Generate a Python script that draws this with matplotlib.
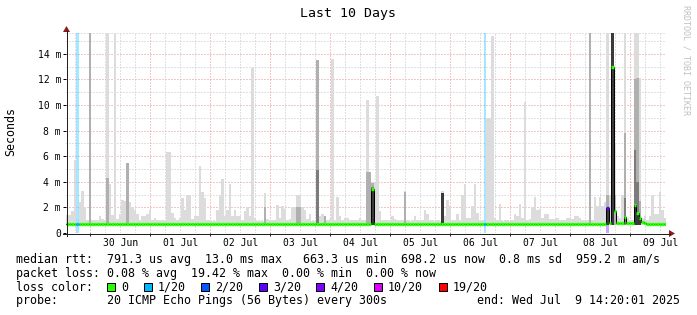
import matplotlib
matplotlib.use("Agg")
import matplotlib.pyplot as plt
from matplotlib.patches import Polygon, Rectangle
from matplotlib.collections import LineCollection
from datetime import datetime

plt.rcParams['font.family'] = ['DejaVu Sans Mono']

# ---------------- data ----------------
title = "Last 10 Days"
y_label = "Seconds"
start = datetime(2025, 6, 29, 14, 20, 1)     # 240 one-hour bins up to Jul 9 14:20
day_labels = ["30 Jun", "01 Jul", "02 Jul", "03 Jul", "04 Jul",
              "05 Jul", "06 Jul", "07 Jul", "08 Jul", "09 Jul"]
y_ticks_ms = [0, 2, 4, 6, 8, 10, 12, 14]
y_tick_labels = ["0", "2 m", "4 m", "6 m", "8 m", "10 m", "12 m", "14 m"]

smoke_lo = 0.6  # ms, fastest ping (bottom of the smoke)
# top of the light smoke (slowest ping) per hour, ms
smoke_hi = [
    1.4, 1.4, 1.7, 5.7, 0, 2.4, 3.3, 2.0, 1.0, 16, 1.0, 1.0, 1.0, 1.3, 1.1, 1.0, 16, 3.8, 1.4, 16, 1.1, 1.5, 2.6, 2.5,
    5.5, 2.4, 2.0, 1.8, 1.5, 1.0, 1.3, 1.3, 1.5, 1.8, 1.0, 1.2, 1.0, 0.95, 1.0, 1.0, 6.3, 6.3, 1.6, 1.2, 1.0, 1.2, 2.7, 1.8,
    3.0, 3.0, 1.1, 1.3, 1.3, 5.2, 3.2, 2.7, 1.0, 1.0, 0.95, 0.95, 1.8, 3.0, 4.2, 1.3, 1.8, 3.8, 1.3, 1.8, 1.3, 1.3, 1.0, 1.7,
    2.0, 1.3, 12.9, 1.2, 0.95, 0.95, 0.95, 3.1, 1.1, 1.0, 1.0, 1.0, 2.2, 1.2, 2.1, 1.9, 1.0, 1.1, 2.0, 2.0, 3.0, 3.0, 2.0, 1.8,
    1.1, 1.5, 0.95, 0.95, 13.5, 1.3, 1.5, 1.3, 1.0, 1.1, 13.6, 1.0, 2.8, 1.3, 1.0, 1.2, 1.2, 1.0, 1.0, 1.0, 1.0, 1.2, 1.0, 1.0,
    10.4, 4.8, 4.0, 4.0, 10.7, 1.7, 1.0, 1.0, 1.0, 1.0, 1.3, 1.1, 1.0, 1.0, 1.0, 3.3, 1.0, 0.95, 1.0, 1.3, 1.0, 1.0, 1.0, 1.8,
    1.5, 1.0, 1.0, 0.95, 1.0, 0.95, 3.3, 1.3, 2.6, 2.1, 1.0, 1.0, 1.5, 1.0, 3.0, 3.8, 1.2, 1.2, 2.1, 3.8, 1.6, 1.0, 1.0, 0,
    9.0, 9.0, 15.4, 1.2, 1.0, 2.3, 0.95, 1.0, 1.0, 0.95, 1.0, 1.5, 1.3, 2.3, 1.2, 10.2, 1.0, 1.1, 2.0, 2.8, 1.8, 1.9, 1.2, 1.5,
    1.5, 1.1, 1.1, 1.1, 1.2, 1.0, 1.0, 1.0, 1.15, 1.15, 1.1, 1.3, 1.3, 1.2, 1.0, 1.0, 1.0, 16, 1.0, 2.8, 2.1, 2.8, 2.1, 2.4,
    16, 3.0, 16, 7.0, 1.3, 1.2, 3.0, 16, 1.2, 1.0, 1.0, 16, 16, 12.1, 1.2, 1.3, 1.0, 1.3, 3.0, 1.5, 1.5, 3.2, 1.8, 1.2,
]
# denser smoke layers (hour index, top in ms)
mid_bins = [9, 16, 24, 79, 92, 93, 100, 103, 120, 121, 122, 135, 209, 216, 219, 223, 227, 228, 229]
mid_tops = [16, 4.3, 5.5, 2.0, 2.0, 2.0, 13.5, 1.3, 4.8, 4.8, 3.9, 3.2, 16, 3.0, 3.0, 7.8, 12.0, 12.1, 2.5]
deep_bins = [100, 122, 223, 227, 228]
deep_tops = [4.9, 3.6, 2.7, 6.5, 4.0]
dark_bins = [122, 150, 216, 218, 227, 228, 229]
dark_tops = [3.5, 3.1, 1.93, 16, 2.19, 1.6, 1.17]

median_ms = ([0.72] * 122 + [3.44] + [0.72] * 93 +
             [1.93, 0.80, 13.0, 1.72, 0.80, 0.80, 0.80, 1.24, 0.80, 0.80, 0.80,
              2.19, 1.60, 1.17, 0.85, 0.75] + [0.72] * 8)

loss_bins = [4, 167, 216]
loss_levels = ["1/20", "1/20", "3/20"]

loss_labels = ["0", "1/20", "2/20", "3/20", "4/20", "10/20", "19/20"]
loss_colors = ["#26ff00", "#00b8ff", "#0059ff", "#5e00ff", "#7e00ff", "#dd00ff", "#ff0000"]

legend_rtt = "median rtt:  791.3 us avg  13.0 ms max   663.3 us min  698.2 us now  0.8 ms sd  959.2 m am/s"
legend_loss = "packet loss: 0.08 % avg  19.42 % max  0.00 % min  0.00 % now"
legend_color = "loss color:"
legend_probe = "probe:       20 ICMP Echo Pings (56 Bytes) every 300s"
legend_end = "end: Wed Jul  9 14:20:01 2025"
watermark = "RRDTOOL / TOBI OETIKER"

# ---------------- figure ----------------
W, H, DPI = 697, 315, 100
PX = 72.0 / DPI  # points per pixel
fig = plt.figure(figsize=(W / DPI, H / DPI), dpi=DPI)
fig.patch.set_facecolor("white")

PL, PR, PB, PT = 66, 666, 233, 33
ax = fig.add_axes([PL / W, 1 - PB / H, (PR - PL) / W, (PB - PT) / H])
ax.set_facecolor("white")
n = len(smoke_hi)
ax.set_xlim(0, n)
ax.set_ylim(0, 15.625)
for s in ax.spines.values():
    s.set_visible(False)

color_of = dict(zip(loss_labels, loss_colors))

# grid (1px dotted)
first_midnight = (datetime(2025, 6, 30) - start).total_seconds() / 3600.0
h = first_midnight - 6
dot = (0, (1, 2))
GRID_MINOR = "#c4c4c4"
GRID_MAJOR = "#ee8c8c"
grid_kw = dict(lw=PX, ls=dot, zorder=0.5, snap=True, dash_capstyle="butt")
while h < n:
    if h > 0:
        k = (h - first_midnight) / 24.0
        major = abs(k - round(k)) < 1e-6
        ax.axvline(h, color=GRID_MAJOR if major else GRID_MINOR, **grid_kw)
    h += 6
for v in range(1, 16):
    ax.axhline(v, color=GRID_MAJOR if v % 2 == 0 else GRID_MINOR, **grid_kw)
ax.axhline(15.6, color=GRID_MINOR, **grid_kw)

# loss bars
ax.bar(loss_bins, [16] * len(loss_bins), bottom=0, width=1, align="edge",
       color=[color_of[l] for l in loss_levels], alpha=0.35, linewidth=0, zorder=1.5)

def smoke(bins, tops, color, z):
    b = [j for j, t in zip(bins, tops) if t > smoke_lo]
    hgt = [t - smoke_lo for t in tops if t > smoke_lo]
    ax.bar(b, hgt, bottom=smoke_lo, width=1, align="edge", color=color,
           linewidth=0, zorder=z, antialiased=False)

smoke(list(range(n)), smoke_hi, "#dcdcdc", 2)
smoke(mid_bins, mid_tops, "#b0b0b0", 3)
smoke(deep_bins, deep_tops, "#7c7c7c", 4)
smoke(dark_bins, dark_tops, "#3a3a3a", 5)

# median line: black steps, coloured by loss
ax.step(list(range(n + 1)), median_ms + [median_ms[-1]], where="post",
        color="black", lw=PX, zorder=6)
seg_colors = [loss_colors[0]] * n
for j, l in zip(loss_bins, loss_levels):
    seg_colors[j] = color_of[l]
segs = [[(j, median_ms[j]), (j + 1, median_ms[j])] for j in range(n)]
ax.add_collection(LineCollection(segs, colors=seg_colors, linewidths=3.3 * PX,
                                 capstyle="butt", zorder=7))

# ticks
ax.set_yticks(y_ticks_ms)
ax.set_yticklabels(y_tick_labels)
ax.tick_params(axis="y", length=3 * PX, width=PX, pad=2 * PX, labelsize=7, colors="#000000")
middays = [first_midnight + 12 + 24 * k for k in range(len(day_labels))]
ax.set_xticks(middays)
ax.set_xticklabels(day_labels)
ax.set_xticks([first_midnight + 24 * k for k in range(10)], minor=True)
ax.tick_params(axis="x", which="major", length=0, pad=5 * PX, labelsize=7)
ax.tick_params(axis="x", which="minor", length=3 * PX, width=PX, color="#202020")

def fx(x):
    return x / W

def fy(y):
    return 1 - y / H

# axes lines and arrows
fig.add_artist(plt.Line2D([fx(63), fx(670)], [fy(233.5), fy(233.5)], color="#202020", lw=PX))
fig.add_artist(plt.Line2D([fx(66.5), fx(66.5)], [fy(236), fy(31)], color="#202020", lw=PX))
arrow_c = "#8b1a1a"
fig.add_artist(Polygon([(fx(669), fy(230)), (fx(669), fy(237)), (fx(675), fy(233.5))],
                       closed=True, transform=fig.transFigure, color=arrow_c, lw=0))
fig.add_artist(Polygon([(fx(63), fy(32)), (fx(70), fy(32)), (fx(66.5), fy(26))],
                       closed=True, transform=fig.transFigure, color=arrow_c, lw=0))

# texts
fig.text(fx(348), fy(14), title, ha="center", va="center", fontsize=9.5)
fig.text(fx(11), fy(131), y_label, ha="center", va="center", rotation=90, fontsize=8.4)
fig.text(fx(686), fy(60), watermark, ha="center", va="center", rotation=270,
         fontsize=6, color="#c0c0c0")

LEG_FS = 8.4
cw = 7.02
fig.text(fx(16), fy(263.3), legend_rtt, ha="left", va="baseline", fontsize=LEG_FS)
fig.text(fx(16), fy(277.0), legend_loss, ha="left", va="baseline", fontsize=LEG_FS)
fig.text(fx(16), fy(290.7), legend_color, ha="left", va="baseline", fontsize=LEG_FS)
fig.text(fx(16), fy(304.4), legend_probe, ha="left", va="baseline", fontsize=LEG_FS)
fig.text(fx(680), fy(304.4), legend_end, ha="right", va="baseline", fontsize=LEG_FS)

xb = 16 + 13 * cw
for lab, col in zip(loss_labels, loss_colors):
    fig.add_artist(Rectangle((fx(xb), fy(290.5)), 8 / W, 8 / H, transform=fig.transFigure,
                             facecolor=col, edgecolor="black", lw=PX))
    xl = xb + 2 * cw
    fig.text(fx(xl), fy(290.7), lab, ha="left", va="baseline", fontsize=LEG_FS)
    xb = xl + len(lab) * cw + 2.2 * cw

fig.savefig("out.png", dpi=DPI, facecolor="white")
